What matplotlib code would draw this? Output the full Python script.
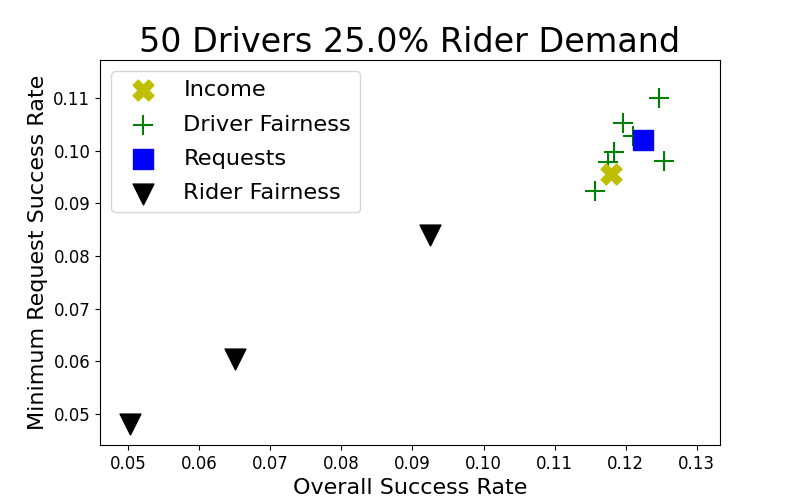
import matplotlib
matplotlib.use('Agg')
import matplotlib.pyplot as plt

# Income
income_x = [0.1180]
income_y = [0.0955]

# Driver fairness
driver_x = [0.1247, 0.1196, 0.1210, 0.1184, 0.1176, 0.1254, 0.1157]
driver_y = [0.1100, 0.1052, 0.1027, 0.0998, 0.0979, 0.0981, 0.0924]

# Requests
requests_x = [0.1224]
requests_y = [0.1020]

# Rider fairness
rider_x = [0.0502, 0.0650, 0.0925]
rider_y = [0.0481, 0.0604, 0.0840]

fig, ax = plt.subplots(figsize=(8, 5), dpi=100)

ax.scatter(income_x, income_y, marker='X', s=225, color='y', label='Income', zorder=3)
ax.scatter(driver_x, driver_y, marker='+', s=225, color='g', label='Driver Fairness', zorder=2)
ax.scatter(requests_x, requests_y, marker='s', s=225, color='b', label='Requests', zorder=3)
ax.scatter(rider_x, rider_y, marker='v', s=225, color='k', label='Rider Fairness', zorder=3)

ax.set_xlim(0.046, 0.1333)
ax.set_ylim(0.0441, 0.1172)

ax.set_title('50 Drivers 25.0% Rider Demand', fontsize=24)
ax.set_xlabel('Overall Success Rate', fontsize=16)
ax.set_ylabel('Minimum Request Success Rate', fontsize=16)
ax.tick_params(labelsize=12)
ax.legend(loc='upper left', fontsize=16.2, labelspacing=0.64)

plt.savefig('out.png', dpi=100)
